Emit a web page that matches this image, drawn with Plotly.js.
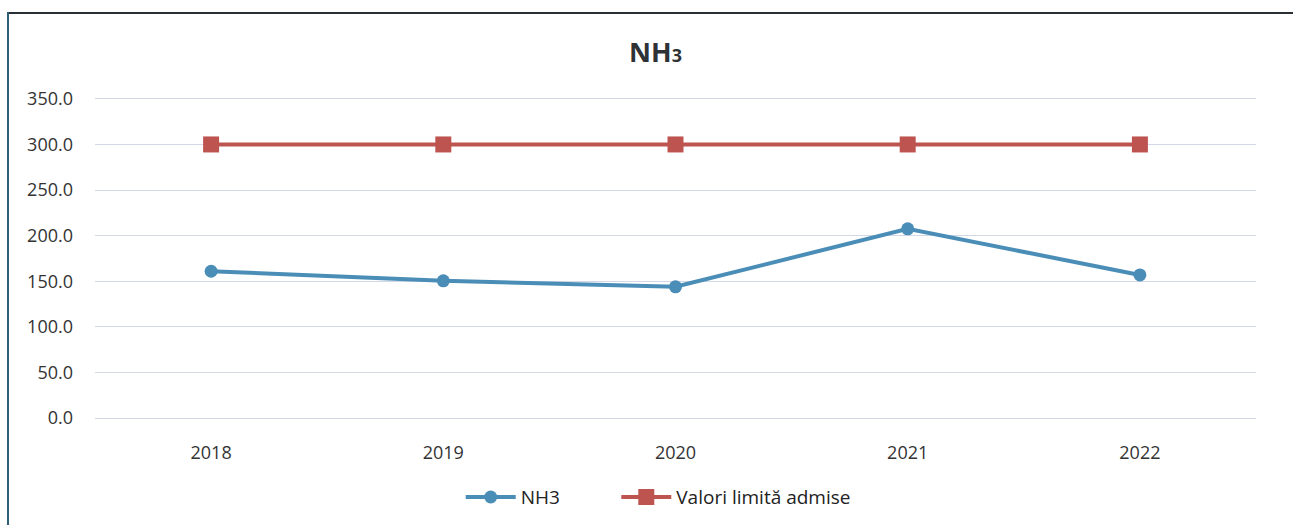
<!DOCTYPE html>
<html>
<head>
<meta charset="utf-8">
<script src="https://cdn.plot.ly/plotly-3.0.1.min.js"></script>
<style>
html,body{margin:0;padding:0;background:#fff;}
#wrap{position:absolute;left:0;top:0;width:1293px;height:525px;}
#frameTop{position:absolute;left:8px;top:12px;width:1285px;height:2px;background:#2a2f33;}
#frameLeft{position:absolute;left:7px;top:12px;width:2px;height:513px;background:#2f5f78;}
#chart{position:absolute;left:0;top:0;width:1293px;height:525px;}
</style>
</head>
<body>
<div id="wrap">
<div id="chart"></div>
<div id="frameTop"></div>
<div id="frameLeft"></div>
</div>
<script>
const years = ['2018','2019','2020','2021','2022'];
const nh3 = [161.0, 150.5, 144.0, 207.5, 157.0];
const limit = [300, 300, 300, 300, 300];
const yTicks = [0, 50, 100, 150, 200, 250, 300, 350];

const traces = [
  {
    x: years, y: nh3, name: 'NH3', type: 'scatter', mode: 'lines+markers',
    line: {color: '#4a8db7', width: 4},
    marker: {symbol: 'circle', size: 13, color: '#4a8db7'},
    legend: 'legend'
  },
  {
    x: years, y: limit, name: 'Valori limită admise', type: 'scatter', mode: 'lines+markers',
    line: {color: '#be5450', width: 4},
    marker: {symbol: 'square', size: 16, color: '#be5450'},
    legend: 'legend2'
  }
];

const legStyle = {orientation: 'h', xanchor: 'left', yref: 'container', y: 0.053, yanchor: 'middle',
                  font: {size: 19, color: '#222'}, itemwidth: 50, bgcolor: 'rgba(0,0,0,0)'};

const layout = {
  width: 1293, height: 525,
  margin: {l: 95, r: 37, t: 97, b: 105, autoexpand: false},
  paper_bgcolor: 'rgba(0,0,0,0)', plot_bgcolor: '#fff',
  font: {family: 'Open Sans, Liberation Sans, sans-serif', color: '#333', size: 18},
  title: {text: '<b>NH<span style="font-size:18px">3</span></b>', x: 0.507, xanchor: 'center', y: 0.9, yanchor: 'middle',
          font: {size: 27, color: '#2e3236', family: 'Open Sans, sans-serif'}},
  xaxis: {type: 'category', range: [-0.5, 4.5], showgrid: false, zeroline: false, showline: false,
          ticks: '', tickfont: {size: 18, color: '#333'}, ticklabelstandoff: 20},
  yaxis: {range: [-2, 352], tickvals: yTicks, ticktext: yTicks.map(v => v.toFixed(1)),
          showgrid: true, gridcolor: '#d3d7e6', gridwidth: 1, zeroline: false, showline: false,
          ticks: '', tickfont: {size: 18, color: '#333'}, ticklabelstandoff: 21},
  showlegend: true,
  legend: Object.assign({}, legStyle, {x: 0.315}),
  legend2: Object.assign({}, legStyle, {x: 0.449})
};

Plotly.newPlot('chart', traces, layout, {displayModeBar: false, staticPlot: true});
</script>
</body>
</html>
